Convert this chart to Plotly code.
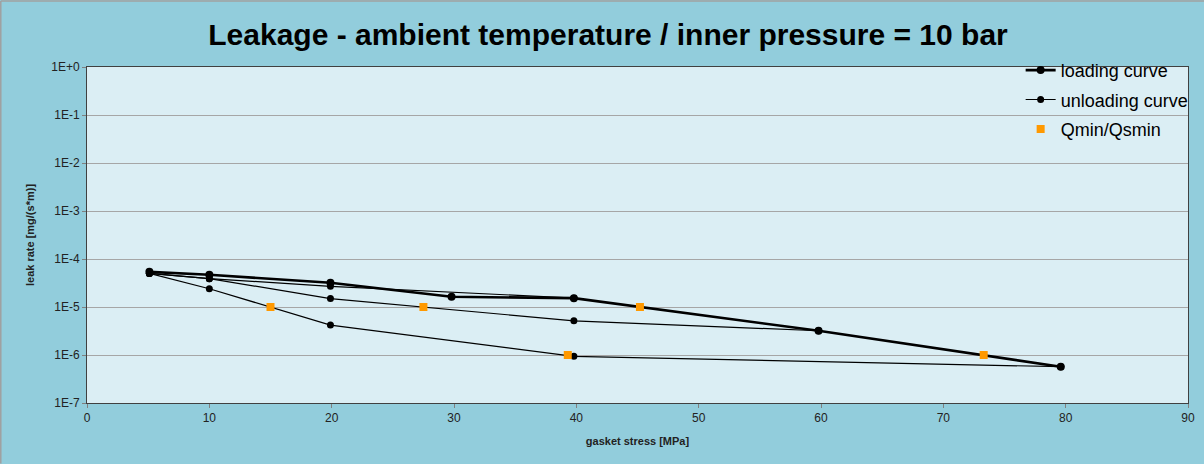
import plotly.graph_objects as go

# ---- data ----
loading_x = [5.1, 10.0, 19.9, 29.8, 39.8, 59.8, 79.6]
loading_y = [5.4e-5, 4.7e-5, 3.2e-5, 1.63e-5, 1.53e-5, 3.2e-6, 5.7e-7]

unload40_x = [39.8, 19.9, 10.0, 5.1]
unload40_y = [1.53e-5, 2.7e-5, 3.9e-5, 5.0e-5]
unload60_x = [59.8, 39.8, 19.9, 10.0, 5.1]
unload60_y = [3.2e-6, 5.15e-6, 1.5e-5, 3.9e-5, 5.0e-5]
unload80_x = [79.6, 39.8, 19.9, 10.0, 5.1]
unload80_y = [5.7e-7, 9.4e-7, 4.2e-6, 2.4e-5, 5.0e-5]

qmin_x = [15.0, 27.5, 39.3, 45.2, 73.3]
qmin_y = [1e-5, 1e-5, 1e-6, 1e-5, 1e-6]

ytick_vals = [1e0, 1e-1, 1e-2, 1e-3, 1e-4, 1e-5, 1e-6, 1e-7]
ytick_text = ["1E+0", "1E-1", "1E-2", "1E-3", "1E-4", "1E-5", "1E-6", "1E-7"]

title_text = "Leakage - ambient temperature / inner pressure = 10 bar"

# ---- build ----
unload_x = unload40_x + [None] + unload60_x + [None] + unload80_x
unload_y = unload40_y + [None] + unload60_y + [None] + unload80_y

fig = go.Figure()
fig.add_trace(go.Scatter(
    x=loading_x, y=loading_y, mode="lines+markers", name="loading curve",
    line=dict(color="black", width=2.6), marker=dict(color="black", size=8),
    legendgroup="a"))
fig.add_trace(go.Scatter(
    x=unload_x, y=unload_y, mode="lines+markers", name="unloading curve",
    line=dict(color="black", width=1.2), marker=dict(color="black", size=7),
    legendgroup="b"))
fig.add_trace(go.Scatter(
    x=qmin_x, y=qmin_y, mode="markers", name="Qmin/Qsmin",
    marker=dict(color="#FF9900", size=8, symbol="square"),
    legendgroup="c"))

narrow = "Liberation Sans Narrow, Arial Narrow, Liberation Sans, sans-serif"

fig.update_layout(
    width=1204, height=464,
    margin=dict(l=87, r=16, t=67, b=61, autoexpand=False),
    paper_bgcolor="#92CDDC",
    plot_bgcolor="#DBEEF4",
    title=dict(text="<b>" + title_text + "</b>", x=0.505, xanchor="center",
               y=0.925, yanchor="middle",
               font=dict(family="Liberation Sans, Arial, sans-serif", size=30, color="black")),
    showlegend=True,
    legend=dict(x=0.848, y=1.045, xanchor="left", yanchor="top",
                bgcolor="rgba(0,0,0,0)", borderwidth=0,
                font=dict(family="Liberation Sans, Arial, sans-serif", size=18, color="black"),
                tracegroupgap=3, itemwidth=30),
    xaxis=dict(range=[0, 90], dtick=10, showgrid=False, zeroline=False,
               showline=True, linecolor="#404040", linewidth=1, mirror=True,
               ticks="outside", ticklen=4, tickcolor="#808080",
               tickfont=dict(family=narrow, size=12, color="#222222"),
               title=dict(text="<b>gasket stress [MPa]</b>", standoff=12,
                          font=dict(family=narrow, size=11, color="#222222"))),
    yaxis=dict(type="log", range=[-7, 0], tickvals=ytick_vals, ticktext=ytick_text,
               showgrid=True, gridcolor="#A6A6A6", gridwidth=1, zeroline=False,
               showline=True, linecolor="#404040", linewidth=1, mirror=True,
               ticks="outside", ticklen=4, tickcolor="#808080",
               tickfont=dict(family=narrow, size=12, color="#222222"),
               title=dict(text="<b>leak rate [mg/(s*m)]</b>", standoff=14,
                          font=dict(family=narrow, size=11, color="#222222"))),
)

# outer chart frame (top and left edges visible in the reference)
fig.add_shape(type="line", xref="paper", yref="paper",
              x0=-0.0783, x1=1.02, y0=1.1967, y1=1.1967,
              line=dict(color="#A0A0A0", width=1.5))
fig.add_shape(type="line", xref="paper", yref="paper",
              x0=-0.0783, x1=-0.0783, y0=-0.18, y1=1.1967,
              line=dict(color="#A0A0A0", width=1.5))

fig.write_html("out.html",
               config={"displayModeBar": False},
               post_script="document.body.style.margin='0';document.body.style.padding='0';")
